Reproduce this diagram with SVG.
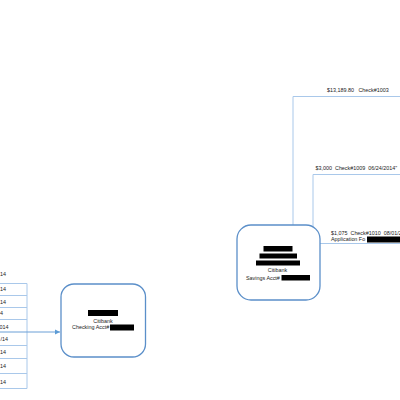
<svg xmlns="http://www.w3.org/2000/svg" width="400" height="400" viewBox="0 0 400 400">
<defs>
<style>
.t{font-family:"Liberation Sans",Arial,sans-serif;font-size:5.4px;fill:#222;white-space:pre}
.c{text-anchor:middle}
.e{text-anchor:end}
.box{fill:#fff;stroke:#5b8fc9;stroke-width:1.3}
.ln{fill:none;stroke:#a9c8ea;stroke-width:1}
.ar{fill:none;stroke:#6a9fd6;stroke-width:1}
.red{fill:#000}
</style>
<marker id="ah" markerWidth="6" markerHeight="6" refX="5" refY="3" orient="auto" markerUnits="userSpaceOnUse">
<path d="M0,0.5 L5,3 L0,5.5 Z" fill="#5b9bd5"/>
</marker>
</defs>
<rect width="400" height="400" fill="#fff"/>
<g id="connectors">
<path class="ln" d="M293,225 V96.5 H400"/>
<path class="ln" d="M313,227 V174.5 H400"/>
<path class="ln" d="M320,243.5 H400"/>
<path class="ln" d="M0,283.5 H27 M0,295.5 H27 M0,307.5 H27 M0,319.5 H27 M0,345.5 H27 M0,358.5 H27 M0,373.5 H27 M0,388.5 H27 M27,283.5 V388.5"/>
<path class="ar" d="M0,332 H60" marker-end="url(#ah)"/>
</g>
<g id="list-labels">
<text class="t e" x="6" y="276">14</text>
<text class="t e" x="6" y="291">14</text>
<text class="t e" x="6" y="303.5">14</text>
<text class="t e" x="3" y="315">4</text>
<text class="t e" x="8.5" y="328.5">014</text>
<text class="t e" x="8" y="340.5">/14</text>
<text class="t e" x="6" y="353.5">14</text>
<text class="t e" x="6" y="368">14</text>
<text class="t e" x="6" y="383.5">14</text>
</g>
<g id="edge-labels">
<text class="t" x="327" y="92">$13,189.80   Check#1003</text>
<text class="t" x="315.5" y="170">$3,000  Check#1009  06/24/2014"</text>
<text class="t" x="331" y="234.5">$1,075  Check#1010  08/01/2</text>
<text class="t" x="331" y="241">Application Fo</text>
<rect class="red" x="367" y="236.5" width="33" height="6"/>
</g>
<g id="checking">
<rect class="box" x="61" y="284" width="84.5" height="73" rx="13"/>
<rect class="red" x="88" y="310" width="30" height="6"/>
<text class="t c" x="103" y="322.5">Citibank</text>
<text class="t" x="72" y="329">Checking Acct#</text>
<rect class="red" x="110" y="324.5" width="24" height="6"/>
</g>
<g id="savings">
<rect class="box" x="237" y="225" width="83" height="75" rx="14"/>
<rect class="red" x="263.5" y="246" width="29" height="5.5"/>
<rect class="red" x="259.5" y="253.5" width="37.5" height="5"/>
<rect class="red" x="256" y="260.5" width="44" height="5"/>
<text class="t c" x="277.5" y="272">Citibank</text>
<text class="t" x="246" y="279.5">Savings Acct#</text>
<rect class="red" x="281.5" y="275" width="28.5" height="5.5"/>
</g>
</svg>
